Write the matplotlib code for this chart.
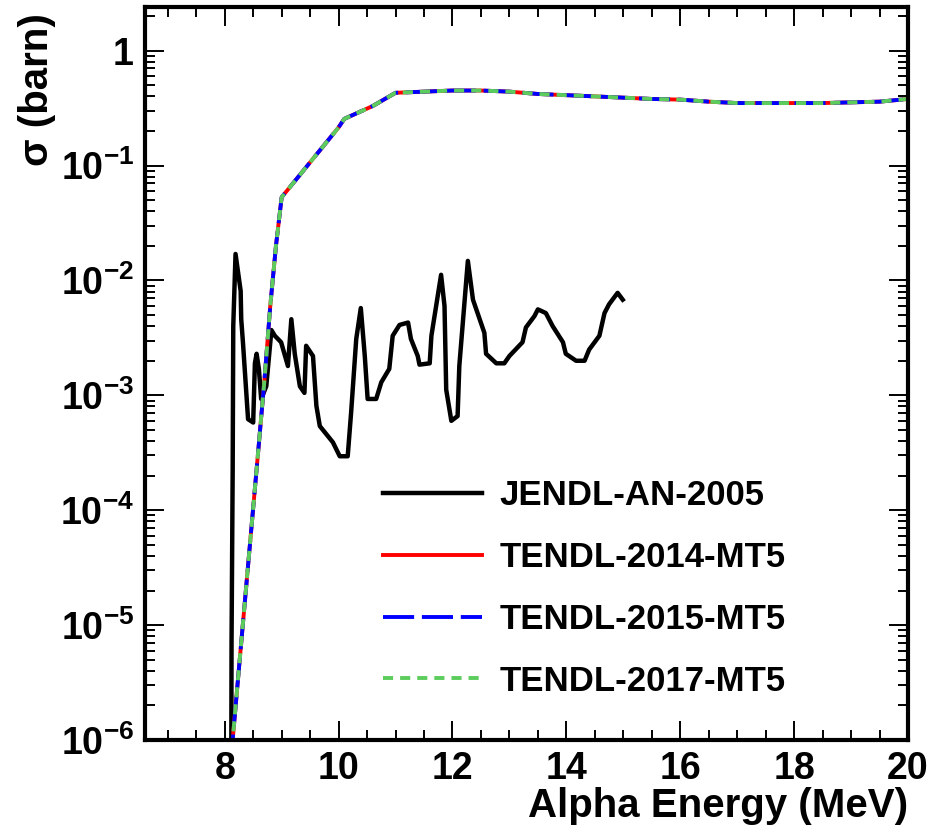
import math
import matplotlib
matplotlib.use('Agg')
import matplotlib.pyplot as plt
from matplotlib.ticker import MultipleLocator, LogLocator, FixedLocator, FuncFormatter, NullFormatter

plt.rcParams['font.family'] = ['Liberation Sans', 'DejaVu Sans']
plt.rcParams['font.weight'] = 'bold'
plt.rcParams['mathtext.fontset'] = 'custom'
plt.rcParams['mathtext.rm'] = 'Liberation Sans:bold'
plt.rcParams['mathtext.bf'] = 'Liberation Sans:bold'
plt.rcParams['mathtext.default'] = 'rm'

# JENDL-AN-2005 (black)
jendl_energy = [8.115, 8.12, 8.14, 8.15, 8.19, 8.28, 8.29, 8.32, 8.41, 8.50, 8.53, 8.56,
                8.60, 8.64, 8.73, 8.82, 8.88, 8.99, 9.11, 9.17, 9.23, 9.32, 9.40, 9.43,
                9.55, 9.61, 9.67, 9.90, 10.02, 10.16, 10.22, 10.31, 10.39, 10.46, 10.51,
                10.66, 10.75, 10.89, 10.95, 11.07, 11.22, 11.27, 11.39, 11.42, 11.60,
                11.63, 11.80, 11.86, 11.89, 11.98, 12.09, 12.12, 12.27, 12.36, 12.56,
                12.59, 12.77, 12.91, 13.00, 13.23, 13.29, 13.44, 13.50, 13.64, 13.76,
                13.94, 13.99, 14.17, 14.32, 14.40, 14.58, 14.67, 14.75, 14.90, 14.99]
jendl_sigma = [5e-7, 7.2e-6, 2.3e-4, 4.0e-3, 1.7e-2, 8.1e-3, 4.6e-3, 2.9e-3, 6.2e-4, 5.8e-4,
               1.9e-3, 2.3e-3, 1.7e-3, 9.3e-4, 1.2e-3, 3.7e-3, 3.3e-3, 2.9e-3, 1.8e-3,
               4.6e-3, 2.3e-3, 1.2e-3, 1.05e-3, 2.7e-3, 2.2e-3, 8.1e-4, 5.4e-4, 3.9e-4,
               2.95e-4, 2.95e-4, 7.1e-4, 3.1e-3, 5.75e-3, 2.2e-3, 9.3e-4, 9.3e-4, 1.3e-3,
               1.7e-3, 3.3e-3, 4.1e-3, 4.3e-3, 3.1e-3, 2.2e-3, 1.85e-3, 1.9e-3, 3.3e-3,
               1.12e-2, 6.0e-3, 1.12e-3, 6.0e-4, 6.6e-4, 1.8e-3, 1.48e-2, 6.8e-3, 3.5e-3,
               2.3e-3, 1.9e-3, 1.9e-3, 2.2e-3, 2.9e-3, 3.9e-3, 4.9e-3, 5.6e-3, 5.2e-3,
               4.0e-3, 2.9e-3, 2.3e-3, 2.0e-3, 2.0e-3, 2.5e-3, 3.3e-3, 5.2e-3, 6.2e-3,
               7.8e-3, 6.8e-3]

# TENDL MT5 (2014, 2015, 2017 are practically identical)
tendl_energy = [8.1, 8.2, 8.3, 8.4, 8.5, 8.6, 8.7, 8.8, 8.9, 9.0, 10.0, 10.1, 10.6, 11.0,
                11.5, 12.0, 12.5, 13.0, 13.5, 14.0, 14.5, 15.0, 15.5, 16.0, 16.5, 17.0,
                17.5, 18.0, 18.5, 19.0, 19.5, 20.0]
tendl_sigma = [6e-7, 2.2e-6, 8e-6, 2.9e-5, 1.05e-4, 3.8e-4, 1.4e-3, 6e-3, 0.02, 0.053,
               0.215, 0.255, 0.33, 0.43, 0.44, 0.45, 0.45, 0.44, 0.42, 0.41, 0.40, 0.39,
               0.38, 0.375, 0.36, 0.35, 0.35, 0.35, 0.35, 0.355, 0.36, 0.38]

labels = ['JENDL-AN-2005', 'TENDL-2014-MT5', 'TENDL-2015-MT5', 'TENDL-2017-MT5']
y_decades = [1e-6, 1e-5, 1e-4, 1e-3, 1e-2, 1e-1, 1]

fig = plt.figure(figsize=(9.37, 8.27), dpi=100)
ax = fig.add_axes([145/937, 87/827, 763/937, 733/827])

lw = 2.8
ax.plot(jendl_energy, jendl_sigma, color='black', lw=3.2, label=labels[0])
ax.plot(tendl_energy, tendl_sigma, color='#ff0000', lw=lw, label=labels[1])
ax.plot(tendl_energy, tendl_sigma, color='#0000ff', lw=lw, ls=(0, (8, 2)), label=labels[2])
ax.plot(tendl_energy, tendl_sigma, color='#5ccd5c', lw=lw, ls=(0, (2.6, 1.8)), label=labels[3])

ax.set_yscale('log')
ax.set_xlim(6.6, 20)
ax.set_ylim(1e-6, 2.4)

ax.xaxis.set_major_locator(MultipleLocator(2))
ax.xaxis.set_minor_locator(MultipleLocator(0.5))
ax.yaxis.set_major_locator(FixedLocator(y_decades))
ax.yaxis.set_minor_locator(LogLocator(base=10, subs=range(2, 10), numticks=20))
ax.yaxis.set_minor_formatter(NullFormatter())

def ylab(v, pos):
    e = int(round(math.log10(v)))
    return '1' if e == 0 else r'$10^{%d}$' % e

ax.yaxis.set_major_formatter(FuncFormatter(ylab))

for s in ax.spines.values():
    s.set_linewidth(3)
ax.tick_params(which='both', direction='in', top=True, right=True, width=1.4)
ax.tick_params(which='major', length=14, labelsize=27, pad=8)
ax.tick_params(which='minor', length=7)
for t in ax.get_xticklabels() + ax.get_yticklabels():
    t.set_fontweight('bold')

ax.set_xlabel('Alpha Energy (MeV)', fontsize=29, fontweight='bold', ha='right', va='top')
ax.xaxis.set_label_coords(1.0, -0.064)
ax.set_ylabel('σ (barn)', fontsize=29, fontweight='bold', ha='right', va='center')
ax.yaxis.set_label_coords(-0.1415, 0.992)

leg = ax.legend(loc='upper left', bbox_to_anchor=(0.312, 0.356), frameon=False,
                fontsize=25, handlelength=2.85, handletextpad=0.5, labelspacing=0.83,
                borderpad=0, borderaxespad=0)
for t in leg.get_texts():
    t.set_fontweight('bold')

fig.savefig('out.png', dpi=100)
